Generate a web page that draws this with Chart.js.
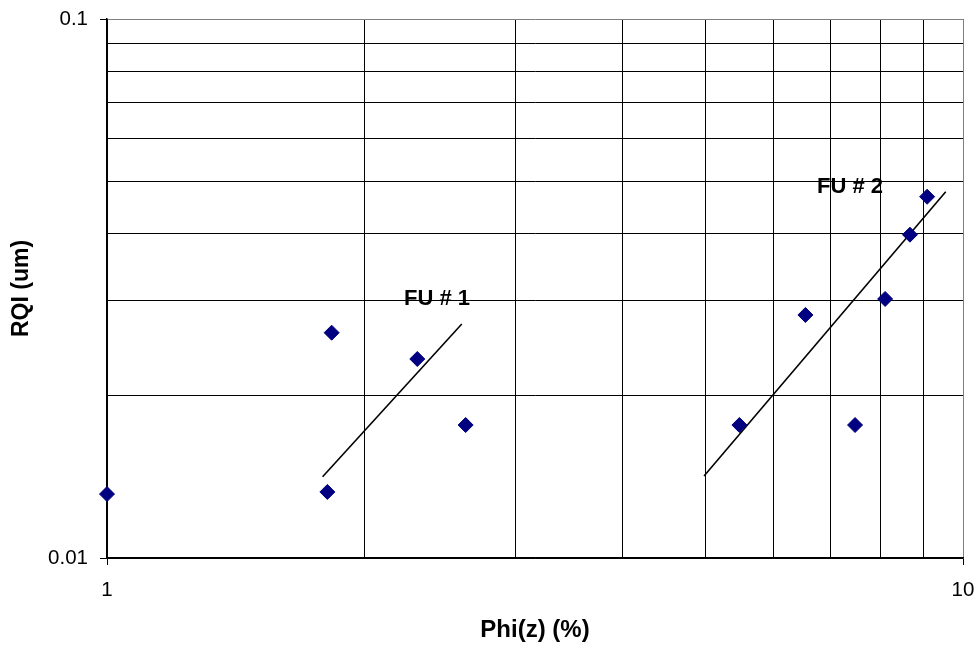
<!DOCTYPE html>
<html>
<head>
<meta charset="utf-8">
<script src="https://cdn.jsdelivr.net/npm/chart.js@4/dist/chart.umd.min.js"></script>
<style>
html,body{margin:0;padding:0;background:#fff;}
#wrap{width:978px;height:650px;}
</style>
</head>
<body>
<div id="wrap"><canvas id="c" width="978" height="650"></canvas></div>
<script>
// Measured points: Phi(z) (%) and RQI (um)
const phiValues = [1.0, 1.809, 1.830, 2.304, 2.624, 5.48, 6.545, 7.48, 8.11, 8.67, 9.08];
const rqiValues = [0.01314, 0.01326, 0.02618, 0.02340, 0.01765, 0.01765, 0.02824, 0.01765, 0.03024, 0.0398, 0.0468];

// Flow-unit trend lines (endpoints)
const fu1Phi = [1.786, 2.597];
const fu1Rqi = [0.01415, 0.02718];
const fu2Phi = [4.983, 9.546];
const fu2Rqi = [0.0142, 0.0478];

// Flow-unit labels
const fuLabels = ['FU # 1', 'FU # 2'];
const fuLabelPhi = [2.43, 7.38];
const fuLabelRqi = [0.0302, 0.0489];

// Axis ticks
const xTicks = [1, 2, 3, 4, 5, 6, 7, 8, 9, 10];
const xTickLabels = ['1', '', '', '', '', '', '', '', '', '10'];
const yTicks = [0.01, 0.02, 0.03, 0.04, 0.05, 0.06, 0.07, 0.08, 0.09, 0.1];
const yTickLabels = ['0.01', '', '', '', '', '', '', '', '', '0.1'];

const xTitle = 'Phi(z) (%)';
const yTitle = 'RQI (um)';

const FONT = '"Liberation Sans", Arial, Helvetica, sans-serif';

const pts = phiValues.map((x, i) => ({x: x, y: rqiValues[i]}));
const fu1 = fu1Phi.map((x, i) => ({x: x, y: fu1Rqi[i]}));
const fu2 = fu2Phi.map((x, i) => ({x: x, y: fu2Rqi[i]}));

const labelPlugin = {
  id: 'fuLabels',
  afterDatasetsDraw(chart) {
    const ctx = chart.ctx;
    const xs = chart.scales.x, ys = chart.scales.y;
    ctx.save();
    ctx.font = 'bold 22px ' + FONT;
    ctx.fillStyle = '#000';
    ctx.textAlign = 'center';
    ctx.textBaseline = 'middle';
    fuLabels.forEach((t, i) => {
      ctx.fillText(t, xs.getPixelForValue(fuLabelPhi[i]), ys.getPixelForValue(fuLabelRqi[i]));
    });
    ctx.restore();
  }
};

const bgPlugin = {
  id: 'bg',
  beforeDraw(chart) {
    const ctx = chart.ctx;
    ctx.save();
    ctx.fillStyle = '#fff';
    ctx.fillRect(0, 0, chart.width, chart.height);
    ctx.restore();
  }
};

new Chart(document.getElementById('c'), {
  type: 'scatter',
  data: {
    datasets: [
      {
        data: pts,
        pointStyle: 'rectRot',
        pointRadius: 7.5,
        pointHoverRadius: 7.5,
        backgroundColor: '#000080',
        borderColor: '#000080',
        borderWidth: 1,
        showLine: false,
        clip: false
      },
      {
        data: fu1,
        showLine: true,
        pointRadius: 0,
        borderColor: '#000',
        borderWidth: 1.6,
        fill: false
      },
      {
        data: fu2,
        showLine: true,
        pointRadius: 0,
        borderColor: '#000',
        borderWidth: 1.6,
        fill: false
      }
    ]
  },
  options: {
    responsive: false,
    animation: false,
    devicePixelRatio: 1,
    layout: {padding: {top: 19, right: 15, left: 0, bottom: 0}},
    plugins: {legend: {display: false}, tooltip: {enabled: false}},
    scales: {
      x: {
        type: 'logarithmic',
        min: 1, max: 10,
        afterBuildTicks(s) { s.ticks = xTicks.map(v => ({value: v})); },
        afterFit(s) { s.height = 92; s.paddingLeft = 0; s.paddingRight = 0; },
        ticks: {
          autoSkip: false, maxRotation: 0,
          color: '#000',
          font: {family: FONT, size: 20.5},
          padding: 13,
          callback(v) { const i = xTicks.indexOf(v); return i >= 0 ? xTickLabels[i] : ''; }
        },
        grid: {
          color(c) { return c.tick && c.tick.value === 10 ? '#808080' : '#000'; },
          lineWidth: 1,
          tickLength: 7,
          tickColor(c) { return c.tick && (c.tick.value === 1 || c.tick.value === 10) ? '#000' : 'rgba(0,0,0,0)'; }
        },
        border: {color: '#000', width: 1.5},
        title: {display: true, text: xTitle, color: '#000', font: {family: FONT, size: 24, weight: 'bold'}, padding: {top: 0, bottom: 5}}
      },
      y: {
        type: 'logarithmic',
        min: 0.01, max: 0.1,
        afterBuildTicks(s) { s.ticks = yTicks.map(v => ({value: v})); },
        afterFit(s) { s.width = 107; s.paddingTop = 0; s.paddingBottom = 0; },
        ticks: {
          autoSkip: false,
          color: '#000',
          font: {family: FONT, size: 20.5},
          padding: 12,
          callback(v) { const i = yTicks.findIndex(t => Math.abs(t - v) < 1e-9); return i >= 0 ? yTickLabels[i] : ''; }
        },
        grid: {
          color(c) { return c.tick && Math.abs(c.tick.value - 0.1) < 1e-9 ? '#808080' : '#000'; },
          lineWidth: 1,
          tickLength: 7,
          tickColor(c) { return c.tick && (Math.abs(c.tick.value - 0.1) < 1e-9 || Math.abs(c.tick.value - 0.01) < 1e-9) ? '#000' : 'rgba(0,0,0,0)'; }
        },
        border: {color: '#000', width: 1.5},
        title: {display: true, text: yTitle, color: '#000', font: {family: FONT, size: 23, weight: 'bold'}, padding: {top: 8, bottom: 0}}
      }
    }
  },
  plugins: [bgPlugin, labelPlugin]
});
</script>
</body>
</html>
